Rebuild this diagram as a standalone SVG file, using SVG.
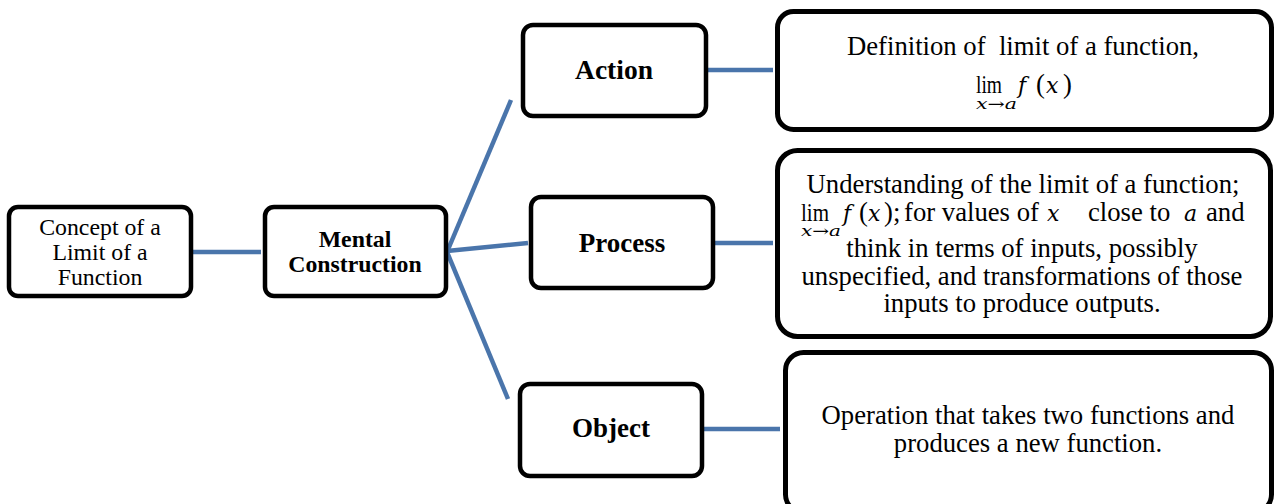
<svg xmlns="http://www.w3.org/2000/svg" width="1282" height="504" viewBox="0 0 1282 504">
  <style>
    .box { fill: #ffffff; stroke: #000000; stroke-width: 4.5; }
    .big { fill: #ffffff; stroke: #000000; stroke-width: 5; }
    .link { stroke: #4a75ab; stroke-width: 4.5; fill: none; }
    .t { font-family: "Liberation Serif", "Times New Roman", serif; fill: #000000; text-anchor: middle; }
    .small { font-size: 23.8px; }
    .bold { font-weight: bold; }
    .desc { font-size: 26.7px; }
    .m { font-family: "Liberation Serif", "Times New Roman", serif; fill: #000000; font-size: 26.7px; }
    .lim { font-family: "Liberation Serif", "Times New Roman", serif; fill: #000000; font-size: 25px; }
    .v { font-family: "DejaVu Serif", "Liberation Serif", serif; font-style: italic; fill: #000000; font-size: 22px; }
    .sub { font-family: "DejaVu Serif", "Liberation Serif", serif; font-style: italic; fill: #000000; font-size: 15px; }
  </style>

  <!-- connectors -->
  <g id="connectors">
    <line class="link" x1="192" y1="252" x2="261" y2="252"/>
    <line class="link" x1="447" y1="252" x2="511" y2="100"/>
    <line class="link" x1="447" y1="251" x2="528" y2="243"/>
    <line class="link" x1="447" y1="252" x2="508" y2="399"/>
    <line class="link" x1="706" y1="70" x2="773" y2="70"/>
    <line class="link" x1="713" y1="243" x2="773" y2="243"/>
    <line class="link" x1="702" y1="429" x2="780" y2="429"/>
  </g>

  <!-- concept node -->
  <g id="concept">
    <rect class="box" x="9" y="207" width="182" height="89" rx="9"/>
    <text class="t small" x="100" y="235">Concept of a</text>
    <text class="t small" x="100" y="260">Limit of a</text>
    <text class="t small" x="100" y="285">Function</text>
  </g>

  <!-- mental construction node -->
  <g id="mental">
    <rect class="box" x="265" y="207" width="181" height="89" rx="9"/>
    <text class="t small bold" x="355" y="247">Mental</text>
    <text class="t small bold" x="355" y="272">Construction</text>
  </g>

  <!-- action node -->
  <g id="action">
    <rect class="box" x="523" y="25" width="183" height="91" rx="10"/>
    <text class="t bold" font-size="27.5" x="614" y="79">Action</text>
  </g>

  <!-- process node -->
  <g id="process">
    <rect class="box" x="531" y="197" width="182" height="91" rx="10"/>
    <text class="t bold" font-size="27" x="622" y="252">Process</text>
  </g>

  <!-- object node -->
  <g id="object">
    <rect class="box" x="520" y="384" width="182" height="92" rx="10"/>
    <text class="t bold" font-size="27" x="611" y="437">Object</text>
  </g>

  <!-- action description: definition with limit expression -->
  <g id="action-desc">
    <rect class="big" x="777.5" y="11.5" width="494" height="118" rx="16"/>
    <text class="t desc" x="1023" y="55" xml:space="preserve">Definition of  limit of a function,</text>
    <text class="lim" x="976" y="93" textLength="26" lengthAdjust="spacingAndGlyphs">lim</text>
    <text class="v" x="1018" y="93">f</text>
    <text class="m" x="1036" y="93">(</text>
    <text class="v" x="1046" y="93">x</text>
    <text class="m" x="1063" y="93">)</text>
    <text class="sub" x="976" y="109" textLength="41" lengthAdjust="spacingAndGlyphs">x→a</text>
  </g>

  <!-- process description -->
  <g id="process-desc">
    <rect class="big" x="777.5" y="150.5" width="493" height="186" rx="20"/>
    <text class="t desc" x="1023" y="193">Understanding of the limit of a function;</text>
    <text class="lim" x="801" y="221" textLength="28" lengthAdjust="spacingAndGlyphs">lim</text>
    <text class="v" x="843" y="221">f</text>
    <text class="m" x="859" y="221">(</text>
    <text class="v" x="868" y="221">x</text>
    <text class="m" x="884" y="221">);</text>
    <text class="m" x="904" y="221">for values of</text>
    <text class="v" x="1047" y="221">x</text>
    <text class="m" x="1088" y="221">close to</text>
    <text class="v" x="1184" y="221">a</text>
    <text class="m" x="1206" y="221">and</text>
    <text class="sub" x="801" y="236" textLength="40" lengthAdjust="spacingAndGlyphs">x→a</text>
    <text class="t desc" x="1022" y="257">think in terms of inputs, possibly</text>
    <text class="t desc" x="1022" y="285">unspecified, and transformations of those</text>
    <text class="t desc" x="1022" y="312">inputs to produce outputs.</text>
  </g>

  <!-- object description -->
  <g id="object-desc">
    <rect class="big" x="785.5" y="352.5" width="486" height="160" rx="18"/>
    <text class="t desc" x="1028" y="424">Operation that takes two functions and</text>
    <text class="t desc" x="1028" y="452">produces a new function.</text>
  </g>
</svg>
